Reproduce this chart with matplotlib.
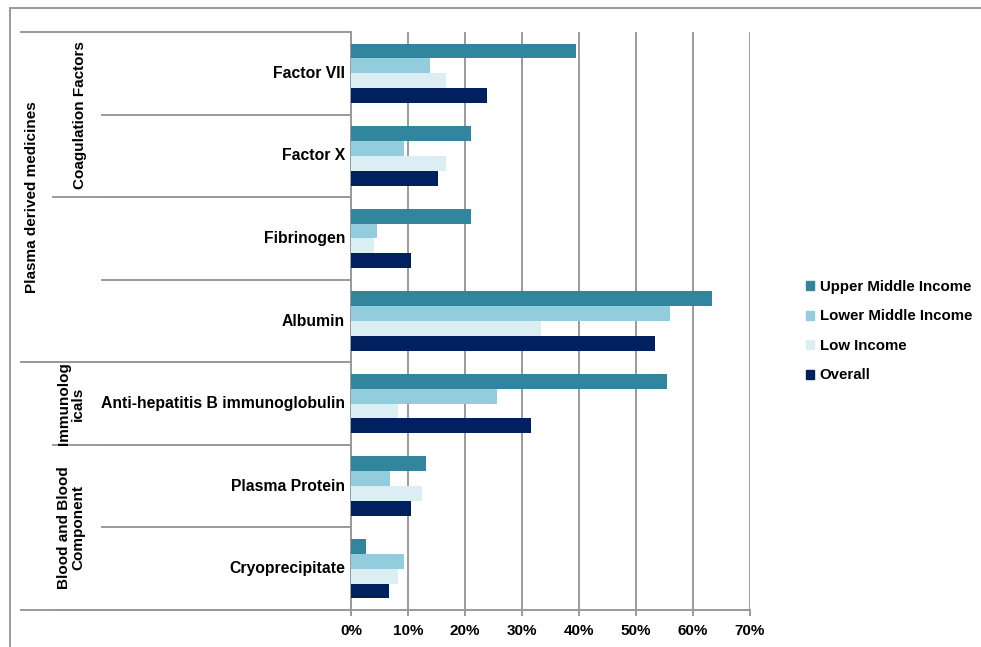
"""
Blood product availability by income group - clustered horizontal bars
"""
import matplotlib
matplotlib.use("Agg")
import matplotlib.pyplot as plt
from matplotlib.patches import Rectangle
from matplotlib.transforms import blended_transform_factory

plt.rcParams['font.family'] = ['Liberation Sans', 'DejaVu Sans']
plt.rcParams['font.weight'] = 'bold'

# data (percent)
categories = ["Factor VII", "Factor X", "Fibrinogen", "Albumin",
              "Anti-hepatitis B immunoglobulin", "Plasma Protein", "Cryoprecipitate"]
upper_middle = [39.5, 21.0, 21.0, 63.3, 55.4, 13.1, 2.6]
lower_middle = [13.9, 9.3, 4.6, 55.9, 25.6, 6.9, 9.3]
low_income = [16.7, 16.7, 4.1, 33.4, 8.3, 12.5, 8.3]
overall = [23.8, 15.2, 10.5, 53.4, 31.5, 10.5, 6.6]

series_names = ["Upper Middle Income", "Lower Middle Income", "Low Income", "Overall"]
colors = ["#31859C", "#93CDDD", "#DBEEF4", "#002060"]

# category groups: (label, first row, last row)
outer_groups = [("Plasma derived medicines", 0, 3), ("", 4, 6)]
inner_groups = [("Coagulation Factors", 0, 1), ("", 2, 3),
                ("Immunolog\nicals", 4, 4), ("Blood and Blood\nComponent", 5, 6)]

W, H = 981, 647
fig = plt.figure(figsize=(W / 100, H / 100), dpi=100)
ax = fig.add_axes([351 / W, 1 - 610 / H, (750 - 351) / W, (610 - 32) / H])

grid_col = "#9a9a9a"
bar_h = 0.18
offsets = [-0.27, -0.09, 0.09, 0.27]
all_series = [upper_middle, lower_middle, low_income, overall]
for vals, off, col, name in zip(all_series, offsets, colors, series_names):
    ax.barh([i + off for i in range(len(categories))], vals, height=bar_h,
            color=col, linewidth=0, label=name, zorder=3)

ax.set_xlim(0, 70)
ax.set_ylim(len(categories) - 0.5, -0.5)
ax.set_xticks(range(0, 71, 10))
ax.set_xticklabels(["%d%%" % t for t in range(0, 71, 10)], fontsize=11, fontweight='bold')
ax.xaxis.grid(True, color=grid_col, linewidth=1.4, zorder=0)
ax.tick_params(axis='x', length=4, width=1.4, color=grid_col, pad=6)
ax.set_yticks([])
for side in ["top", "right"]:
    ax.spines[side].set_visible(False)
for side in ["left", "bottom"]:
    ax.spines[side].set_color(grid_col)
    ax.spines[side].set_linewidth(1.4)

# multi-level category labels drawn left of the axis
def px(x):
    return (x - 351) / 399.0

tr = blended_transform_factory(ax.transAxes, ax.transData)
for i, cat in enumerate(categories):
    ax.text(px(345), i, cat, transform=tr, ha='right', va='center',
            fontsize=11.3, fontweight='bold')

line_kw = dict(transform=tr, color=grid_col, linewidth=1.4, clip_on=False)
# boundaries between rows
for i in range(1, len(categories)):
    ax.plot([px(102), 0], [i - 0.5, i - 0.5], **line_kw)
for label, a, b in inner_groups:
    ax.plot([px(53), 0], [b + 0.5, b + 0.5], **line_kw)
for label, a, b in outer_groups:
    ax.plot([px(21), 0], [a - 0.5, a - 0.5], **line_kw)
    ax.plot([px(21), 0], [b + 0.5, b + 0.5], **line_kw)

for label, a, b in outer_groups:
    if label:
        ax.text(px(32), (a + b) / 2, label, transform=tr, rotation=90,
                ha='center', va='center', fontsize=11, fontweight='bold')
for label, a, b in inner_groups:
    if label:
        xc = 80 if "\n" not in label else 71
        ax.text(px(xc), (a + b) / 2, label, transform=tr, rotation=90,
                ha='center', va='center', fontsize=11, fontweight='bold',
                linespacing=1.0, multialignment='center')

# outer frame
fig.add_artist(plt.Line2D([10 / W, 10 / W], [0, 1 - 8 / H], color=grid_col,
                          linewidth=1.4, transform=fig.transFigure))
fig.add_artist(plt.Line2D([10 / W, 1], [1 - 8 / H, 1 - 8 / H], color=grid_col,
                          linewidth=1.4, transform=fig.transFigure))

handles = [Rectangle((0, 0), 1, 1, color=c) for c in colors]
fig.legend(handles, series_names, loc='upper left',
           bbox_to_anchor=(806 / W, 1 - 280 / H), frameon=False,
           prop={'size': 10.8, 'weight': 'bold'}, handlelength=0.55,
           handleheight=0.55, handletextpad=0.35, labelspacing=1.03,
           borderaxespad=0, borderpad=0)

fig.savefig("out.png", dpi=100)
